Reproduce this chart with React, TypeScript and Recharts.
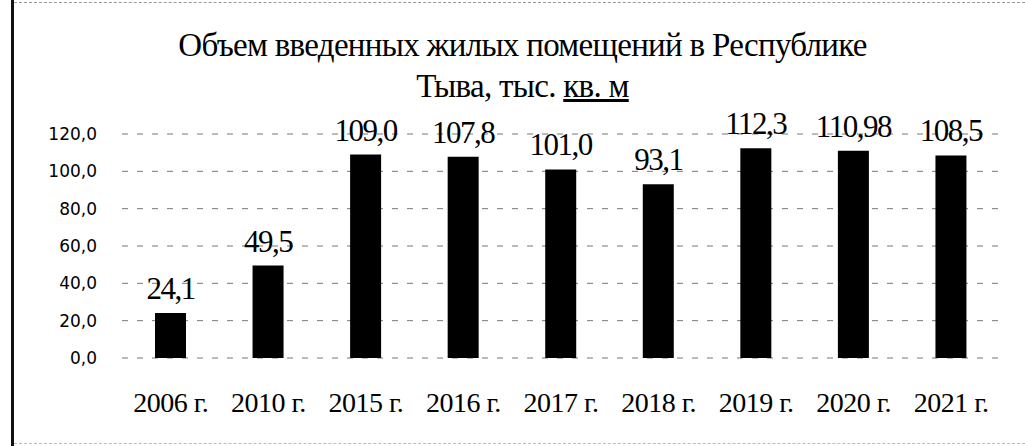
import React from "react";
import { BarChart, Bar, XAxis, YAxis, CartesianGrid, LabelList } from "recharts";

const categories = ["2006 г.", "2010 г.", "2015 г.", "2016 г.", "2017 г.", "2018 г.", "2019 г.", "2020 г.", "2021 г."];
const values = [24.1, 49.5, 109.0, 107.8, 101.0, 93.1, 112.3, 110.98, 108.5];
const yTicks = [0, 20, 40, 60, 80, 100, 120];
const titleLine1 = "Объем введенных жилых помещений в Республике";
const titleLine2a = "Тыва, тыс. ";
const titleLine2b = "кв. м";

const data = categories.map((c, i) => ({ name: c, value: values[i] }));

const fmtVal = (v: number) => {
  const s = Math.abs(v * 10 - Math.round(v * 10)) < 1e-6 ? v.toFixed(1) : v.toFixed(2);
  return s.replace(".", ",");
};

export default function App() {
  return (
    <div style={{ position: "absolute", left: 0, top: 0, width: 1025, height: 446, background: "#fff" }}>
      <div style={{ position: "absolute", left: 11, top: 0, width: 3, height: 446, background: "#111" }} />
      <div style={{ position: "absolute", left: 14, top: 2, width: 1011, height: 0, borderTop: "1px dashed #999" }} />
      <div style={{ position: "absolute", left: 14, top: 443, width: 1011, height: 0, borderTop: "1px dashed #bbb" }} />
      <div
        style={{
          position: "absolute",
          left: 0,
          top: 25,
          width: 1045,
          textAlign: "center",
          fontFamily: "'Liberation Serif', 'Times New Roman', serif",
          fontSize: 33,
          letterSpacing: -0.7,
          lineHeight: "41px",
          color: "#000",
        }}
      >
        <div>{titleLine1}</div>
        <div>
          {titleLine2a}
          <span style={{ textDecoration: "underline" }}>{titleLine2b}</span>
        </div>
      </div>
      <div style={{ position: "absolute", left: 0, top: 0 }}>
        <BarChart
          width={1025}
          height={446}
          data={data}
          margin={{ top: 134, right: 25, bottom: 28, left: 0 }}
          barCategoryGap={0}
          barSize={31}
        >
          <CartesianGrid vertical={false} stroke="#777" strokeDasharray="6 9" />
          <XAxis
            dataKey="name"
            axisLine={false}
            tickLine={false}
            tickSize={0}
            tickMargin={34}
            height={60}
            interval={0}
            tick={{ fill: "#000", fontSize: 28, letterSpacing: -0.5, fontFamily: "'Liberation Serif', serif" }}
          />
          <YAxis
            domain={[0, 120]}
            ticks={yTicks}
            axisLine={false}
            tickLine={false}
            tickSize={0}
            tickMargin={25}
            width={122}
            tickFormatter={(v: number) => v.toFixed(1).replace(".", ",")}
            tick={{ fill: "#000", fontSize: 17, fontFamily: "'DejaVu Sans', sans-serif" }}
          />
          <Bar dataKey="value" fill="#000" isAnimationActive={false}>
            <LabelList
              dataKey="value"
              position="top"
              offset={14}
              formatter={(v: number) => fmtVal(v)}
              style={{ fill: "#000", fontSize: 31, letterSpacing: -1.5, fontFamily: "'Liberation Serif', serif" }}
            />
          </Bar>
        </BarChart>
      </div>
    </div>
  );
}
